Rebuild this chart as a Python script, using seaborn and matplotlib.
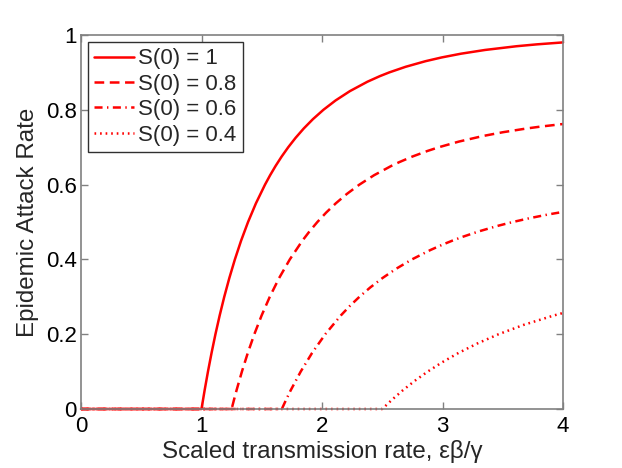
import matplotlib
matplotlib.use("Agg")
import matplotlib.pyplot as plt
import seaborn as sns
import pandas as pd

# ---- data ----
x_s10 = [0, 1.0, 1.0259, 1.0536, 1.0835, 1.1157, 1.1507, 1.1889, 1.2308, 1.2771,
         1.3285, 1.3863, 1.4518, 1.5272, 1.5693, 1.6151, 1.6651, 1.7200, 1.7807, 1.8484,
         1.9247, 2.0118, 2.1127, 2.2319, 2.3765, 2.4801, 2.5584, 2.6941, 2.8594, 2.9930,
         3.1534, 3.3530, 3.6150, 3.7835, 3.9919, 4.0]
y_s10 = [0, 0, 0.05, 0.10, 0.15, 0.20, 0.25, 0.30, 0.35, 0.40,
         0.45, 0.50, 0.55, 0.60, 0.625, 0.65, 0.675, 0.70, 0.725, 0.75,
         0.775, 0.80, 0.825, 0.85, 0.875, 0.89, 0.90, 0.915, 0.93, 0.94,
         0.95, 0.96, 0.97, 0.975, 0.98, 0.9802]

x_s08 = [0, 1.25, 1.27, 1.2908, 1.3353, 1.3843, 1.4384, 1.4988, 1.5667, 1.6439,
         1.7329, 1.8371, 1.8964, 1.9617, 2.0340, 2.1148, 2.2061, 2.3105, 2.4317, 2.5754,
         2.6409, 2.7501, 2.8756, 2.9706, 3.1356, 3.3371, 3.5004, 3.6968, 3.8119, 4.0]
y_s08 = [0, 0, 0.025, 0.05, 0.10, 0.15, 0.20, 0.25, 0.30, 0.35,
         0.40, 0.45, 0.475, 0.50, 0.525, 0.55, 0.575, 0.60, 0.625, 0.65,
         0.66, 0.675, 0.69, 0.70, 0.715, 0.73, 0.74, 0.75, 0.755, 0.762]

x_s06 = [0, 1.6667, 1.7024, 1.7402, 1.8232, 1.9179, 2.0273, 2.1560, 2.2295, 2.3105,
         2.4005, 2.5013, 2.6155, 2.7465, 2.8991, 3.0040, 3.0807, 3.1637, 3.3024, 3.4621,
         3.5835, 3.7198, 3.8748, 4.0]
y_s06 = [0, 0, 0.025, 0.05, 0.10, 0.15, 0.20, 0.25, 0.275, 0.30,
         0.325, 0.35, 0.375, 0.40, 0.425, 0.44, 0.45, 0.46, 0.475, 0.49,
         0.50, 0.51, 0.52, 0.527]

x_s04 = [0, 2.5, 2.5816, 2.6706, 2.7685, 2.8768, 2.9975, 3.1333, 3.2878, 3.4657,
         3.6741, 3.9233, 4.0]
y_s04 = [0, 0, 0.025, 0.05, 0.075, 0.10, 0.125, 0.15, 0.175, 0.20,
         0.225, 0.25, 0.2567]

series_labels = ["S(0) = 1", "S(0) = 0.8", "S(0) = 0.6", "S(0) = 0.4"]
x_ticks = [0, 1, 2, 3, 4]
x_tick_labels = ["0", "1", "2", "3", "4"]
y_ticks = [0, 0.2, 0.4, 0.6, 0.8, 1]
y_tick_labels = ["0", "0.2", "0.4", "0.6", "0.8", "1"]
x_label = "Scaled transmission rate, \u03b5\u03b2/\u03b3"
y_label = "Epidemic Attack Rate"

# ---- plot ----
sns.set_style("ticks")
plt.rcParams["font.family"] = ["Liberation Sans", "DejaVu Sans"]
plt.rcParams["lines.scale_dashes"] = False

fig = plt.figure(figsize=(6.22, 4.68), dpi=100)
ax = fig.add_axes([81 / 622, 1 - 409 / 468, (563 - 81) / 622, (409 - 35) / 468])

grey = "#808080"
styles = ["-", (0, (7.0, 4.0)), (0, (5.8, 3.2, 1.0, 3.2)), (0, (1.2, 2.8))]
xs = [x_s10, x_s08, x_s06, x_s04]
ys = [y_s10, y_s08, y_s06, y_s04]
for xv, yv, lab, ls in zip(xs, ys, series_labels, styles):
    df = pd.DataFrame({"x": xv, "y": yv})
    sns.lineplot(data=df, x="x", y="y", ax=ax, color="red", linestyle=ls,
                 linewidth=1.8, label=lab, estimator=None, sort=False, clip_on=False)

ax.set_xlim(0, 4)
ax.set_ylim(0, 1)
ax.set_xticks(x_ticks)
ax.set_xticklabels(x_tick_labels)
ax.set_yticks(y_ticks)
ax.set_yticklabels(y_tick_labels)
ax.tick_params(axis="both", which="both", direction="in", length=5, width=1,
               color=grey, labelsize=16, top=True, right=True, labelcolor="black")
ax.tick_params(axis="x", pad=5)
ax.tick_params(axis="y", pad=3)
for sp in ax.spines.values():
    sp.set_color(grey)
    sp.set_linewidth(1.2)
    sp.set_visible(True)
ax.set_xlabel(x_label, fontsize=17.4, labelpad=2.5)
ax.set_ylabel(y_label, fontsize=17.4, labelpad=5)

leg = ax.legend(loc="upper left", fontsize=16, frameon=True, fancybox=False,
                edgecolor="#303030", framealpha=1, handlelength=1.8, handletextpad=0.15,
                labelspacing=0.2, borderpad=0.3, borderaxespad=0.3)
leg.get_frame().set_linewidth(1.0)

fig.savefig("out.png", dpi=100)
